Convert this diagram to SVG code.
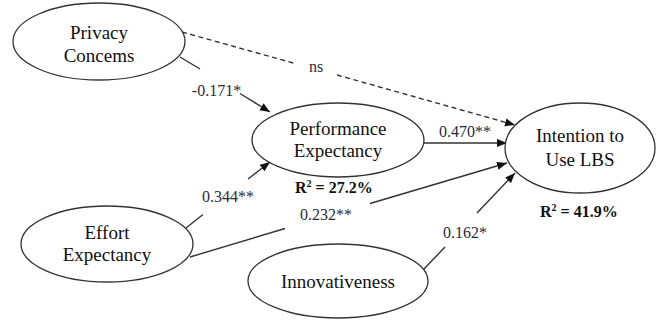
<svg xmlns="http://www.w3.org/2000/svg" width="659" height="320" viewBox="0 0 659 320">
<style>
.node ellipse{fill:#fff;stroke:#333;stroke-width:1.3}
.node text{font-family:"Liberation Serif","Times New Roman",serif;font-size:19px;fill:#111;text-anchor:middle}
.conn path{fill:none;stroke:#333;stroke-width:1.4}
.lbl{font-family:"Liberation Serif","Times New Roman",serif;font-size:16px;fill:#2b2b3a;text-anchor:middle}
.r2{font-family:"Liberation Serif","Times New Roman",serif;font-size:16px;font-weight:bold;fill:#111}
</style>
<defs>
<marker id="arr" markerUnits="userSpaceOnUse" markerWidth="11" markerHeight="9" refX="10" refY="4" orient="auto">
<path d="M0,0 L10,4 L0,8 z" fill="#111"/>
</marker>
</defs>
<rect width="659" height="320" fill="#fff"/>
<g id="connectors" class="conn">
<path d="M182,32 L295,63.5 M337,75 L515,125" stroke-dasharray="5,3.5" marker-end="url(#arr)"/>
<path d="M180,57 L200,69 M240,93.5 L270,112" marker-end="url(#arr)"/>
<path d="M424,143 L507,143" marker-end="url(#arr)"/>
<path d="M186,228 L203,214.5 M248,179 L270,162" marker-end="url(#arr)"/>
<path d="M190,257 L285,228.5 M370,203.5 L507,163" marker-end="url(#arr)"/>
<path d="M423,270 L445,247 M477,213 L515,173" marker-end="url(#arr)"/>
</g>
<g id="privacy" class="node">
<ellipse cx="99" cy="41.5" rx="86" ry="38.5"/>
<text x="99" y="39">Privacy</text>
<text x="99" y="62">Concems</text>
</g>
<g id="performance" class="node">
<ellipse cx="338" cy="140" rx="86" ry="37"/>
<text x="338" y="135">Performance</text>
<text x="338" y="157">Expectancy</text>
</g>
<g id="intention" class="node">
<ellipse cx="580" cy="148" rx="75" ry="45"/>
<text x="580" y="142">Intention to</text>
<text x="580" y="166">Use LBS</text>
</g>
<g id="effort" class="node">
<ellipse cx="107" cy="244" rx="86" ry="38"/>
<text x="107" y="239">Effort</text>
<text x="107" y="261">Expectancy</text>
</g>
<g id="innovativeness" class="node">
<ellipse cx="338" cy="281" rx="90" ry="37"/>
<text x="338" y="288">Innovativeness</text>
</g>
<g id="labels">
<text class="lbl" x="216.5" y="96">-0.171*</text>
<text class="lbl" x="316" y="72">ns</text>
<text class="lbl" x="465" y="137">0.470**</text>
<text class="lbl" x="228" y="202">0.344**</text>
<text class="lbl" x="326" y="220">0.232**</text>
<text class="lbl" x="465" y="238">0.162*</text>
<text class="r2" x="295" y="193">R<tspan dy="-6" font-size="10">2</tspan><tspan dy="6"> = 27.2%</tspan></text>
<text class="r2" x="540" y="217">R<tspan dy="-6" font-size="10">2</tspan><tspan dy="6"> = 41.9%</tspan></text>
</g>
</svg>
